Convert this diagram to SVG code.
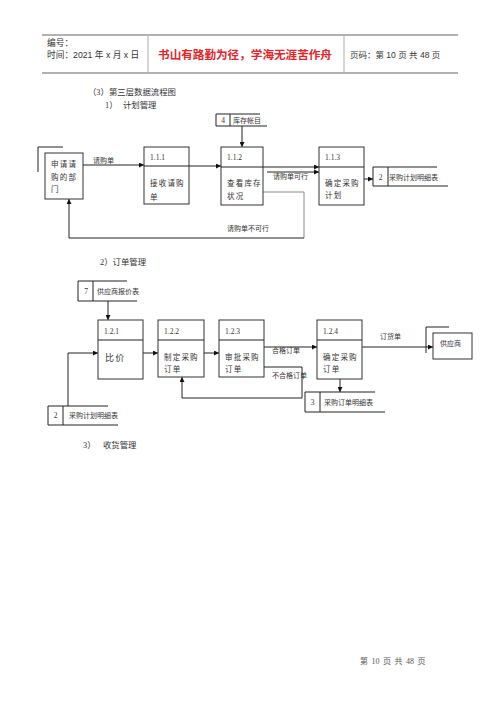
<svg xmlns="http://www.w3.org/2000/svg" width="500" height="707" viewBox="0 0 500 707">
<style>
.bg{fill:#fff}
.hl{stroke:#999;stroke-width:1.5;fill:none}
.hv{stroke:#bbb;stroke-width:1.2;fill:none}
.ht{font-family:"Liberation Sans","Noto Sans CJK SC",sans-serif;font-size:8.7px;fill:#333}
.red{font-family:"Noto Sans CJK SC",sans-serif;font-size:11.6px;font-weight:bold;fill:#e0262a}
.box{fill:#fff;stroke:#333;stroke-width:1}
.ln{fill:none;stroke:#222;stroke-width:1}
.gl{fill:none;stroke:#888;stroke-width:1}
.t{font-family:"Liberation Serif","Noto Sans CJK SC",serif;font-size:7.5px;fill:#333}
.tb{font-family:"Liberation Serif","Noto Sans CJK SC",serif;font-size:7.5px;fill:#333;letter-spacing:1.2px}
.lb{font-family:"Liberation Serif","Noto Sans CJK SC",serif;font-size:7px;fill:#333}
.sec{font-family:"Liberation Serif","Noto Sans CJK SC",serif;font-size:8.4px;fill:#333}
.ft{font-family:"Liberation Serif","Noto Sans CJK SC",serif;font-size:8px;fill:#555;word-spacing:1.5px}
</style>
<defs>
<marker id="ah" viewBox="0 0 10 10" refX="10" refY="5" markerWidth="6" markerHeight="5" orient="auto" markerUnits="userSpaceOnUse">
<path d="M0,0 L10,5 L0,10 z" fill="#111"/>
</marker>
</defs>
<rect class="bg" x="0" y="0" width="500" height="707"/>

<g id="header">
<line class="hl" x1="42" y1="35" x2="458" y2="35"/>
<line class="hl" x1="42" y1="73" x2="458" y2="73"/>
<line class="hv" x1="148" y1="35" x2="148" y2="73"/>
<line class="hv" x1="344" y1="35" x2="344" y2="73"/>
<text class="ht" x="47" y="46">编号：</text>
<text class="ht" x="47" y="58">时间：2021 年 x 月 x 日</text>
<text class="red" x="245" y="59" text-anchor="middle">书山有路勤为径，学海无涯苦作舟</text>
<text class="ht" x="350" y="58" style="font-size:8.5px">页码：第 10 页 共 48 页</text>
</g>

<g id="titles">
<text class="sec" x="88" y="95">（3）第三层数据流程图</text>
<text class="sec" x="105" y="108">1）</text>
<text class="sec" x="123" y="108">计划管理</text>
<text class="sec" x="100" y="265">2）订单管理</text>
<text class="sec" x="83" y="448">3）</text>
<text class="sec" x="103" y="448">收货管理</text>
</g>

<g id="connectors">
<line class="ln" x1="83" y1="165" x2="144" y2="165" marker-end="url(#ah)"/>
<text class="lb" x="93" y="163">请购单</text>
<line class="ln" x1="189" y1="166" x2="221" y2="166" marker-end="url(#ah)"/>
<line class="ln" x1="242" y1="126" x2="242" y2="147" marker-end="url(#ah)"/>
<line class="ln" x1="263" y1="167" x2="319" y2="167" marker-end="url(#ah)"/>
<line class="ln" x1="267" y1="172" x2="319" y2="172" marker-end="url(#ah)"/>
<text class="lb" x="273" y="179">请购单可行</text>
<line class="ln" x1="364" y1="179" x2="373" y2="179" marker-end="url(#ah)"/>
<polyline class="gl" points="263,192 304,192 304,238"/>
<polyline class="ln" points="304,238 69,238 69,199" marker-end="url(#ah)"/>
<text class="lb" x="227" y="231">请购单不可行</text>

<line class="ln" x1="108" y1="301" x2="108" y2="320" marker-end="url(#ah)"/>
<line class="ln" x1="143" y1="353" x2="158" y2="353" marker-end="url(#ah)"/>
<line class="ln" x1="204" y1="353" x2="219" y2="353" marker-end="url(#ah)"/>
<polyline class="ln" points="68,406 68,353 98,353" marker-end="url(#ah)"/>
<line class="ln" x1="264" y1="347" x2="317" y2="347" marker-end="url(#ah)"/>
<text class="lb" x="272" y="353">合格订单</text>
<polyline class="ln" points="264,367 302,367 302,398 182,398 182,377" marker-end="url(#ah)"/>
<text class="lb" x="272" y="378">不合格订单</text>
<line class="ln" x1="340" y1="379" x2="340" y2="392" marker-end="url(#ah)"/>
<line class="ln" x1="362" y1="347" x2="433" y2="347" marker-end="url(#ah)"/>
<text class="lb" x="380" y="339">订货单</text>
</g>

<g id="dept">
<polyline class="ln" points="38,172 38,147 63,147"/>
<rect class="box" x="45" y="153" width="38" height="46"/>
<text class="tb" x="51" y="167">申请请</text>
<text class="tb" x="51" y="180">购的部</text>
<text class="tb" x="51" y="192">门</text>
</g>

<g id="p111">
<rect class="box" x="144" y="147" width="45" height="57"/>
<line class="ln" x1="144" y1="166" x2="189" y2="166"/>
<text class="t" x="150" y="160">1.1.1</text>
<text class="tb" x="150" y="186">接收请购</text>
<text class="tb" x="150" y="200">单</text>
</g>

<g id="p112">
<rect class="box" x="221" y="147" width="42" height="58"/>
<line class="ln" x1="221" y1="167" x2="263" y2="167"/>
<text class="t" x="227" y="160">1.1.2</text>
<text class="tb" x="227" y="186">查看库存</text>
<text class="tb" x="227" y="199">状况</text>
</g>

<g id="p113">
<rect class="box" x="319" y="147" width="45" height="58"/>
<line class="ln" x1="319" y1="167" x2="364" y2="167"/>
<text class="t" x="325" y="160">1.1.3</text>
<text class="tb" x="325" y="186">确定采购</text>
<text class="tb" x="325" y="198">计划</text>
</g>

<g id="store4">
<line class="ln" x1="216" y1="114" x2="260" y2="114"/>
<line class="ln" x1="216" y1="126" x2="267" y2="126"/>
<line class="ln" x1="216" y1="114" x2="216" y2="126"/>
<line class="ln" x1="230" y1="114" x2="230" y2="126"/>
<text class="t" x="223" y="123" text-anchor="middle">4</text>
<text class="lb" x="233" y="123">库存帐目</text>
</g>

<g id="store2a">
<line class="ln" x1="373" y1="167" x2="437" y2="167"/>
<line class="ln" x1="373" y1="186" x2="448" y2="186"/>
<line class="ln" x1="373" y1="167" x2="373" y2="186"/>
<line class="ln" x1="388" y1="167" x2="388" y2="186"/>
<text class="t" x="380.5" y="180" text-anchor="middle">2</text>
<text class="lb" x="389" y="180">采购计划明细表</text>
</g>

<g id="store7">
<line class="ln" x1="78" y1="281" x2="127" y2="281"/>
<line class="ln" x1="78" y1="301" x2="137" y2="301"/>
<line class="ln" x1="78" y1="281" x2="78" y2="301"/>
<line class="ln" x1="93" y1="281" x2="93" y2="301"/>
<text class="t" x="86" y="294" text-anchor="middle">7</text>
<text class="lb" x="97" y="294">供应商报价表</text>
</g>

<g id="p121">
<rect class="box" x="98" y="320" width="45" height="59"/>
<line class="ln" x1="98" y1="340" x2="143" y2="340"/>
<text class="t" x="104" y="334">1.2.1</text>
<text class="tb" x="105" y="361" style="font-size:9px">比价</text>
</g>

<g id="p122">
<rect class="box" x="158" y="320" width="46" height="57"/>
<line class="ln" x1="158" y1="340" x2="204" y2="340"/>
<text class="t" x="164" y="334">1.2.2</text>
<text class="tb" x="164" y="360">制定采购</text>
<text class="tb" x="164" y="372">订单</text>
</g>

<g id="p123">
<rect class="box" x="219" y="320" width="45" height="57"/>
<line class="ln" x1="219" y1="340" x2="264" y2="340"/>
<text class="t" x="225" y="334">1.2.3</text>
<text class="tb" x="225" y="360">审批采购</text>
<text class="tb" x="225" y="372">订单</text>
</g>

<g id="p124">
<rect class="box" x="317" y="320" width="45" height="59"/>
<line class="ln" x1="317" y1="340" x2="362" y2="340"/>
<text class="t" x="323" y="334">1.2.4</text>
<text class="tb" x="323" y="360">确定采购</text>
<text class="tb" x="323" y="372">订单</text>
</g>

<g id="supplier">
<polyline class="ln" points="426,353 426,327 449,327"/>
<rect class="box" x="433" y="333" width="39" height="26"/>
<text class="lb" x="440" y="346">供应商</text>
</g>

<g id="store2b">
<line class="ln" x1="48" y1="406" x2="108" y2="406"/>
<line class="ln" x1="48" y1="425" x2="118" y2="425"/>
<line class="ln" x1="48" y1="406" x2="48" y2="425"/>
<line class="ln" x1="63" y1="406" x2="63" y2="425"/>
<text class="t" x="55.5" y="418" text-anchor="middle">2</text>
<text class="lb" x="69" y="418">采购计划明细表</text>
</g>

<g id="store3">
<line class="ln" x1="305" y1="392" x2="375" y2="392"/>
<line class="ln" x1="305" y1="412" x2="385" y2="412"/>
<line class="ln" x1="305" y1="392" x2="305" y2="412"/>
<line class="ln" x1="320" y1="392" x2="320" y2="412"/>
<text class="t" x="312.5" y="405" text-anchor="middle">3</text>
<text class="lb" x="324" y="405">采购订单明细表</text>
</g>

<g id="footer">
<text class="ft" x="360" y="664">第 10 页 共 48 页</text>
</g>
</svg>
